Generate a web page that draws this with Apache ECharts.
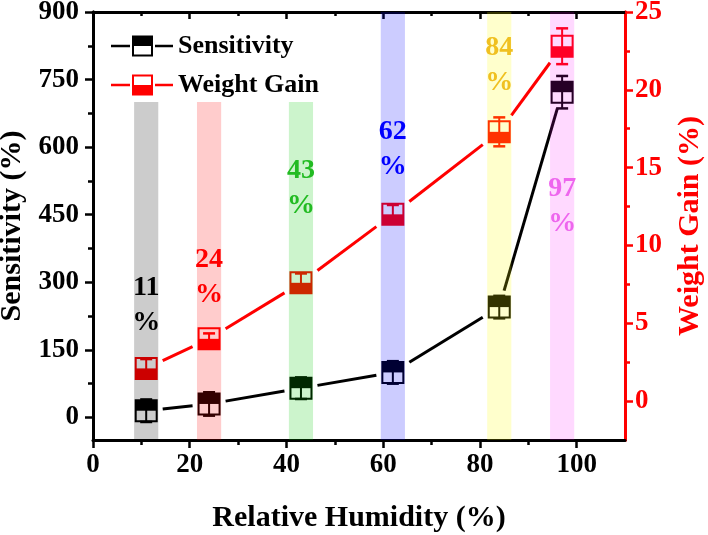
<!DOCTYPE html>
<html><head><meta charset="utf-8">
<script src="https://cdn.jsdelivr.net/npm/echarts@6/dist/echarts.min.js"></script>
<style>html,body{margin:0;padding:0;background:#fff}#c{width:708px;height:535px}</style>
</head><body><div id="c"></div>
<script>
// ---- data ----
const humidity = [11, 24, 43, 62, 84, 97];
const sensitivity = [15, 30, 65, 100, 245, 722];
const sensitivityErr = [25, 26, 24, 25, 25, 36];
const weightGain = [2.1, 4.0, 7.6, 12.0, 17.3, 22.8];
const weightGainErr = [0.6, 0.35, 0.6, 0.6, 0.93, 1.15];
const rhLabels = ['11', '24', '43', '62', '84', '97'];
const bandTop = [700, 700, 700, 900, 900, 900];
const annotY = [250, 312, 508, 595, 782, 468];
const xTicks = [0, 20, 40, 60, 80, 100];
const xMinor = [10, 30, 50, 70, 90];
const sensTicks = [0, 150, 300, 450, 600, 750, 900];
const sensMinor = [75, 225, 375, 525, 675, 825];
const wgTicks = [0, 5, 10, 15, 20, 25];
const wgMinor = [2.5, 7.5, 12.5, 17.5, 22.5];

// ---- styles ----
const FONT = 'Liberation Serif';
const bandColors = ['rgba(0,0,0,0.2)', 'rgba(255,0,0,0.2)', 'rgba(0,200,0,0.2)', 'rgba(0,0,255,0.2)', 'rgba(255,255,0,0.2)', 'rgba(255,0,255,0.15)'];
const labelColors = ['#000000', '#ff0000', '#22bb22', '#0000ff', '#f0c020', '#ee66ee'];
const BAND_HALF = 2.5;

function boxRender(fillTop, color) {
  return function (params, api) {
    const x = api.value(0), v = api.value(1), e = api.value(2);
    const c = api.coord([x, v]);
    const t = api.coord([x, v + e]);
    const b = api.coord([x, v - e]);
    const s = 21, h = s / 2, cw = 6;
    return {
      type: 'group',
      children: [
        { type: 'rect', shape: { x: c[0] - h, y: c[1] - h, width: s, height: s }, style: { fill: '#fff', stroke: color, lineWidth: 2 } },
        { type: 'rect', shape: fillTop ? { x: c[0] - h, y: c[1] - h, width: s, height: h } : { x: c[0] - h, y: c[1], width: s, height: h }, style: { fill: color } },
        { type: 'line', shape: { x1: c[0], y1: t[1], x2: c[0], y2: b[1] }, style: { stroke: color, lineWidth: 2 } },
        { type: 'line', shape: { x1: c[0] - cw, y1: t[1], x2: c[0] + cw, y2: t[1] }, style: { stroke: color, lineWidth: 2.5 } },
        { type: 'line', shape: { x1: c[0] - cw, y1: b[1], x2: c[0] + cw, y2: b[1] }, style: { stroke: color, lineWidth: 2.5 } }
      ]
    };
  };
}
function segRender(color) {
  return function (params, api) {
    const p0 = api.coord([api.value(0), api.value(1)]);
    const p1 = api.coord([api.value(2), api.value(3)]);
    let dx = p1[0] - p0[0], dy = p1[1] - p0[1];
    const L = Math.sqrt(dx * dx + dy * dy);
    dx /= L; dy /= L;
    const gap = 16.5 / Math.max(Math.abs(dx), Math.abs(dy));
    return {
      type: 'line',
      shape: { x1: p0[0] + dx * gap, y1: p0[1] + dy * gap, x2: p1[0] - dx * gap, y2: p1[1] - dy * gap },
      style: { stroke: color, lineWidth: 3 }
    };
  };
}
function bandRender(params, api) {
  const x = api.value(0), top = api.value(1);
  const p0 = api.coord([x - BAND_HALF, top]);
  const p1 = api.coord([x + BAND_HALF, -50]);
  return { type: 'rect', shape: { x: p0[0], y: p0[1], width: p1[0] - p0[0], height: p1[1] - p0[1] }, style: { fill: bandColors[params.dataIndex] } };
}

const sensPts = humidity.map((x, i) => [x, sensitivity[i], sensitivityErr[i]]);
const wgPts = humidity.map((x, i) => [x, weightGain[i], weightGainErr[i]]);
const sensSeg = humidity.slice(1).map((x, i) => [humidity[i], sensitivity[i], x, sensitivity[i + 1]]);
const wgSeg = humidity.slice(1).map((x, i) => [humidity[i], weightGain[i], x, weightGain[i + 1]]);
const bands = humidity.map((x, i) => [x, bandTop[i]]);
const annots = humidity.map((x, i) => ({ value: [x, annotY[i]], label: { color: labelColors[i] } }));

const iconS = 'path://M0 9.2L19 9.2L19 11.8L0 11.8Z M21 0L42 0L42 21L21 21Z M23 2L23 19L40 19L40 2Z M23 2L40 2L40 10.5L23 10.5Z M44 9.2L62 9.2L62 11.8L44 11.8Z';
const iconW = 'path://M0 9.2L19 9.2L19 11.8L0 11.8Z M21 0L42 0L42 21L21 21Z M23 2L23 19L40 19L40 2Z M23 10.5L40 10.5L40 19L23 19Z M44 9.2L62 9.2L62 11.8L44 11.8Z';

const lblStyle = { fontFamily: FONT, fontWeight: 'bold', fontSize: 27 };
function xAx(pos, ticks, len, inside, showLine, labels) {
  return {
    type: 'value', position: pos, min: 0, max: 110,
    axisLine: { show: showLine, onZero: false, lineStyle: { color: '#000', width: 3 } },
    axisTick: { show: true, customValues: ticks, length: len, inside: inside, lineStyle: { color: '#000', width: 2.5 } },
    axisLabel: labels ? Object.assign({ customValues: ticks, color: '#000', margin: 12 }, lblStyle) : { show: false },
    splitLine: { show: false }
  };
}
function yAx(pos, min, max, ticks, len, color, labels) {
  return {
    type: 'value', position: pos, min: min, max: max,
    axisLine: { show: true, onZero: false, lineStyle: { color: color, width: 3 } },
    axisTick: { show: true, customValues: ticks, length: len, lineStyle: { color: color, width: 2.5 } },
    axisLabel: labels ? Object.assign({ customValues: ticks, color: color, margin: 14 }, lblStyle) : { show: false },
    splitLine: { show: false }
  };
}
const x0 = xAx('bottom', xTicks, 8, false, true, true);
Object.assign(x0, { name: 'Relative Humidity (%)', nameLocation: 'middle', nameGap: 63, nameTextStyle: { fontFamily: FONT, fontWeight: 'bold', fontSize: 30, color: '#000' } });
const y0 = yAx('left', -50, 900, sensTicks, 8, '#000', true);
Object.assign(y0, { name: 'Sensitivity (%)', nameLocation: 'middle', nameGap: 56, nameRotate: 90, nameTextStyle: { fontFamily: FONT, fontWeight: 'bold', fontSize: 30, color: '#000' } });
const y1 = yAx('right', -2.5, 25, wgTicks, 8, '#ff0000', true);
y1.axisLabel.margin = 10;
Object.assign(y1, { name: 'Weight Gain (%)', nameLocation: 'middle', nameGap: 50, nameRotate: 90, nameTextStyle: { fontFamily: FONT, fontWeight: 'bold', fontSize: 30, color: '#ff0000' } });

const option = {
  animation: false,
  backgroundColor: '#fff',
  grid: { left: 93, right: 83, top: 12, bottom: 95, containLabel: false, outerBoundsMode: 'none' },
  legend: {
    data: [{ name: 'Sensitivity', icon: iconS }, { name: 'Weight Gain', icon: iconW }],
    orient: 'vertical', left: 106, top: 28, itemWidth: 62, itemHeight: 21, itemGap: 13,
    textStyle: { fontFamily: FONT, fontWeight: 'bold', fontSize: 26, color: '#000' },
    selectedMode: false
  },
  xAxis: [x0, xAx('bottom', xMinor, 5, false, false, false), xAx('top', xTicks, 7, true, true, false), xAx('top', xMinor, 4, true, false, false)],
  yAxis: [y0, y1, yAx('left', -50, 900, sensMinor, 5, '#000', false), yAx('right', -2.5, 25, wgMinor, 5, '#ff0000', false)],
  series: [
    { name: 'Sensitivity', type: 'custom', xAxisIndex: 0, yAxisIndex: 0, data: sensSeg, renderItem: segRender('#000'), itemStyle: { color: '#000' }, z: 2, silent: true },
    { name: 'Weight Gain', type: 'custom', xAxisIndex: 0, yAxisIndex: 1, data: wgSeg, renderItem: segRender('#ff0000'), itemStyle: { color: '#ff0000' }, z: 2, silent: true },
    { name: 'Sensitivity', type: 'custom', xAxisIndex: 0, yAxisIndex: 0, data: sensPts, renderItem: boxRender(true, '#000'), itemStyle: { color: '#000' }, z: 3, silent: true },
    { name: 'Weight Gain', type: 'custom', xAxisIndex: 0, yAxisIndex: 1, data: wgPts, renderItem: boxRender(false, '#ff0000'), itemStyle: { color: '#ff0000' }, z: 3, silent: true },
    { name: 'bands', type: 'custom', xAxisIndex: 0, yAxisIndex: 0, data: bands, renderItem: bandRender, z: 5, silent: true },
    {
      name: 'labels', type: 'scatter', xAxisIndex: 0, yAxisIndex: 0, data: annots, symbolSize: 1,
      itemStyle: { color: 'rgba(0,0,0,0)', opacity: 1 }, z: 6, silent: true,
      label: { show: true, position: 'inside', opacity: 1, fontFamily: FONT, fontWeight: 'bold', fontSize: 28, lineHeight: 35,
        formatter: p => rhLabels[p.dataIndex] + '\n%' }
    }
  ]
};
const chart = echarts.init(document.getElementById('c'), null, { renderer: 'canvas' });
chart.setOption(option);
</script></body></html>
